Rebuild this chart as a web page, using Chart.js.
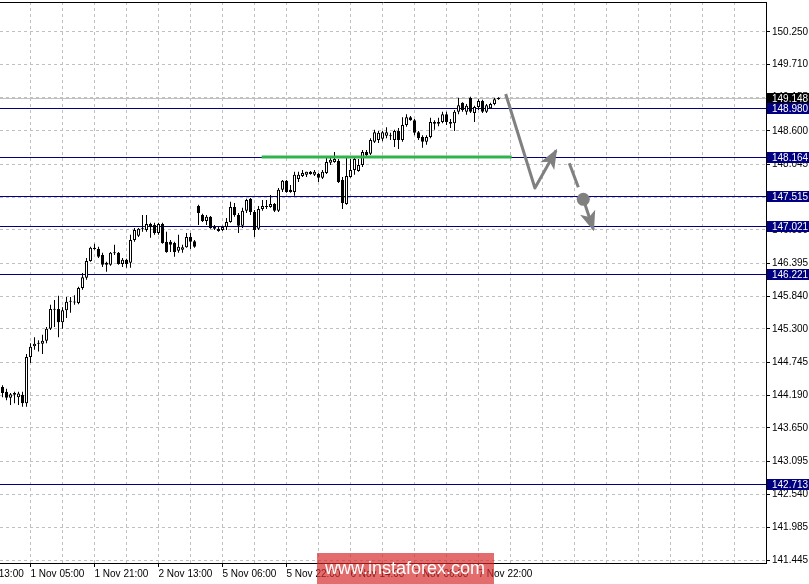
<!DOCTYPE html>
<html>
<head>
<meta charset="utf-8">
<script src="https://cdn.jsdelivr.net/npm/chart.js@4"></script>
<style>
  html, body { margin: 0; padding: 0; background: #fff; }
  canvas { display: block; }
</style>
</head>
<body>
<canvas id="chart" width="809" height="584"></canvas>
<script>
// H1 candles
const opens = [
  144.33, 144.25, 144.15, 144.23, 144.16, 144.20, 144.06, 144.83, 145.01, 145.05,
  145.05, 145.10, 145.30, 145.63, 145.63, 145.41, 145.61, 145.75, 145.75, 145.73,
  145.98, 146.15, 146.43, 146.65, 146.63, 146.53, 146.40, 146.37, 146.56, 146.57,
  146.38, 146.45, 146.40, 146.78, 146.85, 146.96, 146.95, 147.05, 147.03, 146.90,
  147.05, 146.75, 146.75, 146.73, 146.60, 146.62, 146.66, 146.83, 146.76, 147.35,
  147.20, 147.10, 147.17, 147.00, 146.97, 146.95, 147.00, 147.08, 147.33, 147.20,
  147.02, 147.27, 147.47, 147.25, 146.97, 147.30, 147.33, 147.33, 147.38, 147.27,
  147.62, 147.77, 147.62, 147.58, 147.80, 147.85, 147.87, 147.92, 147.87, 147.88,
  147.82, 147.90, 148.07, 148.08, 148.10, 147.78, 147.38, 147.83, 147.95, 147.93,
  148.03, 148.25, 148.22, 148.42, 148.45, 148.47, 148.52, 148.52, 148.45, 148.60,
  148.45, 148.70, 148.83, 148.78, 148.58, 148.50, 148.42, 148.50, 148.75, 148.72,
  148.75, 148.88, 148.75, 148.73, 148.92, 149.07, 148.92, 149.15, 148.90, 149.00,
  149.10, 148.92, 148.98, 149.05, 149.13
];
const highs = [
  144.36, 144.30, 144.23, 144.25, 144.25, 144.25, 144.88, 145.06, 145.16, 145.11,
  145.20, 145.33, 145.70, 145.78, 145.85, 145.66, 145.83, 145.83, 145.86, 146.00,
  146.23, 146.48, 146.67, 146.72, 146.67, 146.57, 146.42, 146.58, 146.70, 146.58,
  146.48, 146.47, 146.87, 146.98, 146.98, 147.20, 147.20, 147.07, 147.07, 147.07,
  147.07, 146.92, 146.78, 146.75, 146.87, 146.70, 146.90, 146.90, 146.78, 147.37,
  147.22, 147.20, 147.18, 147.03, 147.00, 147.02, 147.15, 147.42, 147.40, 147.23,
  147.32, 147.47, 147.48, 147.28, 147.35, 147.45, 147.45, 147.53, 147.40, 147.65,
  147.78, 147.78, 147.70, 147.92, 147.92, 147.95, 147.92, 147.93, 147.95, 147.90,
  147.95, 148.15, 148.18, 148.25, 148.13, 147.83, 148.15, 148.13, 148.15, 148.13,
  148.28, 148.28, 148.48, 148.62, 148.60, 148.60, 148.66, 148.57, 148.62, 148.65,
  148.83, 148.88, 148.85, 148.80, 148.60, 148.53, 148.53, 148.82, 148.78, 148.82,
  148.92, 148.92, 148.80, 148.95, 149.15, 149.08, 149.05, 149.17, 149.02, 149.13,
  149.12, 149.05, 149.07, 149.15, 149.16
];
const lows = [
  144.16, 144.11, 144.03, 144.06, 144.03, 144.00, 144.00, 144.73, 144.95, 144.92,
  144.88, 145.06, 145.28, 145.33, 145.16, 145.30, 145.48, 145.57, 145.70, 145.71,
  145.95, 146.12, 146.42, 146.62, 146.48, 146.33, 146.25, 146.35, 146.53, 146.37,
  146.33, 146.32, 146.32, 146.75, 146.83, 146.92, 146.92, 146.82, 146.87, 146.87,
  146.72, 146.57, 146.58, 146.50, 146.57, 146.57, 146.65, 146.63, 146.65, 147.03,
  147.08, 147.03, 146.97, 146.95, 146.92, 146.93, 146.95, 147.07, 147.17, 146.90,
  146.98, 147.23, 147.20, 146.83, 146.95, 147.27, 147.30, 147.32, 147.25, 147.25,
  147.58, 147.57, 147.57, 147.52, 147.75, 147.83, 147.83, 147.87, 147.85, 147.75,
  147.80, 147.88, 148.03, 148.07, 147.73, 147.30, 147.37, 147.82, 147.87, 147.92,
  148.00, 148.17, 148.20, 148.40, 148.40, 148.43, 148.48, 148.45, 148.33, 148.30,
  148.42, 148.67, 148.77, 148.53, 148.45, 148.32, 148.37, 148.48, 148.62, 148.68,
  148.73, 148.70, 148.65, 148.60, 148.88, 148.92, 148.87, 148.90, 148.75, 148.95,
  148.90, 148.90, 148.97, 149.03, 149.12
];
const closes = [
  144.23, 144.15, 144.21, 144.20, 144.22, 144.06, 144.83, 145.00, 145.05, 145.06,
  145.10, 145.30, 145.63, 145.62, 145.41, 145.61, 145.75, 145.76, 145.74, 145.98,
  146.16, 146.43, 146.65, 146.63, 146.50, 146.37, 146.37, 146.57, 146.57, 146.38,
  146.45, 146.38, 146.78, 146.95, 146.97, 146.97, 147.05, 147.00, 146.90, 147.05,
  146.73, 146.58, 146.70, 146.58, 146.67, 146.66, 146.83, 146.75, 146.67, 147.23,
  147.10, 147.17, 146.98, 146.97, 146.93, 147.00, 147.08, 147.33, 147.20, 147.02,
  147.27, 147.45, 147.25, 146.95, 147.30, 147.35, 147.34, 147.38, 147.27, 147.62,
  147.77, 147.58, 147.58, 147.87, 147.87, 147.90, 147.92, 147.88, 147.92, 147.82,
  147.92, 148.08, 148.12, 148.13, 147.75, 147.40, 147.85, 147.95, 148.13, 148.03,
  148.25, 148.20, 148.45, 148.58, 148.57, 148.58, 148.58, 148.51, 148.60, 148.45,
  148.70, 148.83, 148.78, 148.57, 148.48, 148.42, 148.50, 148.75, 148.72, 148.75,
  148.88, 148.75, 148.72, 148.92, 149.03, 148.95, 149.02, 148.92, 149.00, 149.10,
  148.92, 149.03, 149.05, 149.13, 149.148
];

// price scale grid (terminal style uneven steps)
const yTicks = [150.250, 149.710, 149.155, 148.600, 148.045, 147.490, 146.950, 146.395,
  145.840, 145.300, 144.745, 144.190, 143.650, 143.095, 142.540, 141.985, 141.445];

// time scale: grid every 8 bars, label every 16 bars
const xGridBars = [-9, -1, 7, 15, 23, 31, 39, 47, 55, 63, 71, 79, 87, 95, 103, 111, 119,
  127, 135, 143, 151, 159, 167, 175, 183];
const xLabelBars = [-9, 7, 23, 39, 55, 71, 87, 103, 119];
const xLabels = ['31 Oct 13:00', '1 Nov 05:00', '1 Nov 21:00', '2 Nov 13:00', '5 Nov 06:00',
  '5 Nov 22:00', '6 Nov 14:00', '7 Nov 06:00', '7 Nov 22:00'];

// horizontal levels
const levels = [148.980, 148.164, 147.515, 147.021, 146.221, 142.713];
const bidPrice = 149.148;

// drawings
const greenX = [64.8, 127.3];
const greenY = [148.164, 148.164];
const arrow1X = [125.8, 133.1, 138.4];
const arrow1Y = [149.216, 147.648, 148.274];
const dashX = [141.7, 143.95];
const dashY = [148.06, 147.66];
const dotX = [145.2];
const dotY = [147.46];
const arrow2X = [145.2, 147.7];
const arrow2Y = [147.46, 146.96];

const FONT = 'Liberation Sans';
const grey = '#808080';
const navy = '#000080';

const pts = (xs, ys) => xs.map((x, i) => ({ x: x, y: ys[i] }));
const barIdx = opens.map((_, i) => i);

const plotDecor = {
  id: 'plotDecor',
  beforeDatasetsDraw(chart) {
    const { ctx, chartArea: a, scales: { y } } = chart;
    ctx.save();
    ctx.lineWidth = 1;
    const hline = (v, c) => {
      const py = Math.round(y.getPixelForValue(v)) + 0.5;
      ctx.strokeStyle = c;
      ctx.beginPath();
      ctx.moveTo(a.left, py);
      ctx.lineTo(a.right, py);
      ctx.stroke();
    };
    hline(bidPrice, '#c0c0c0');
    levels.forEach(v => hline(v, navy));
    ctx.restore();
  },
  afterDatasetsDraw(chart) {
    // arrow heads at the end of the arrow paths
    const { ctx } = chart;
    chart.data.datasets.forEach((ds, i) => {
      if (!ds.arrowHead) return;
      const el = chart.getDatasetMeta(i).data;
      const p1 = el[el.length - 2], p2 = el[el.length - 1];
      const ang = Math.atan2(p2.y - p1.y, p2.x - p1.x);
      const len = 18, half = 8;
      ctx.save();
      ctx.translate(p2.x, p2.y);
      ctx.rotate(ang);
      ctx.fillStyle = grey;
      ctx.beginPath();
      ctx.moveTo(2, 0);
      ctx.lineTo(-len, -half);
      ctx.lineTo(-len + 5, 0);
      ctx.lineTo(-len, half);
      ctx.closePath();
      ctx.fill();
      ctx.restore();
    });
  },
  afterDraw(chart) {
    const { ctx, chartArea: a, scales: { y } } = chart;
    ctx.save();
    // top frame
    ctx.strokeStyle = '#000';
    ctx.lineWidth = 1;
    ctx.beginPath();
    ctx.moveTo(a.left, a.top + 0.5);
    ctx.lineTo(a.right + 1, a.top + 0.5);
    ctx.stroke();

    // price boxes on the axis
    ctx.font = '10px "' + FONT + '"';
    ctx.textBaseline = 'middle';
    ctx.textAlign = 'left';
    const box = (v, bg) => {
      const py = Math.round(y.getPixelForValue(v));
      ctx.fillStyle = bg;
      ctx.fillRect(a.right + 1, py - 5, chart.width - a.right - 1, 11);
      ctx.fillStyle = '#fff';
      ctx.fillText(v.toFixed(3), a.right + 6, py + 1);
    };
    box(bidPrice, '#000');
    levels.forEach(v => box(v, navy));

    // watermark
    ctx.fillStyle = 'rgba(214, 40, 40, 0.68)';
    ctx.fillRect(317, 553, 177, 31);
    ctx.fillStyle = '#fff';
    ctx.font = '18px "' + FONT + '"';
    ctx.textAlign = 'center';
    ctx.fillText('www.instaforex.com', 405, 569);
    ctx.restore();
  }
};

new Chart(document.getElementById('chart'), {
  type: 'bar',
  data: {
    datasets: [
      {
        label: 'wick',
        data: barIdx.map(i => ({ x: i, y: [lows[i], highs[i]] })),
        backgroundColor: '#000',
        grouped: false,
        barThickness: 1,
        maxBarThickness: 1,
        barPercentage: 1,
        categoryPercentage: 1,
        inflateAmount: 0,
        order: 6
      },
      {
        label: 'body',
        data: barIdx.map(i => ({ x: i, y: [opens[i], closes[i]] })),
        backgroundColor: barIdx.map(i => closes[i] >= opens[i] ? '#fff' : '#000'),
        borderColor: '#000',
        borderWidth: 1,
        borderSkipped: false,
        grouped: false,
        barThickness: 3,
        maxBarThickness: 3,
        barPercentage: 1,
        categoryPercentage: 1,
        minBarLength: 1,
        inflateAmount: 0,
        order: 5
      },
      {
        type: 'line',
        label: 'green',
        data: pts(greenX, greenY),
        borderColor: '#2fb34c',
        borderWidth: 3,
        pointRadius: 0,
        order: 4
      },
      {
        type: 'line',
        label: 'arrow1',
        data: pts(arrow1X, arrow1Y),
        borderColor: grey,
        borderWidth: 3,
        pointRadius: 0,
        borderJoinStyle: 'round',
        arrowHead: true,
        order: 3
      },
      {
        type: 'line',
        label: 'dash',
        data: pts(dashX, dashY),
        borderColor: grey,
        borderWidth: 3,
        pointRadius: 0,
        order: 3
      },
      {
        type: 'line',
        label: 'arrow2',
        data: pts(arrow2X, arrow2Y),
        borderColor: grey,
        borderWidth: 3,
        pointRadius: 0,
        arrowHead: true,
        order: 2
      },
      {
        type: 'line',
        label: 'dot',
        data: pts(dotX, dotY),
        showLine: false,
        pointRadius: 6.5,
        pointBackgroundColor: grey,
        pointBorderColor: grey,
        borderWidth: 0,
        order: 1
      }
    ]
  },
  options: {
    responsive: false,
    animation: false,
    events: [],
    layout: { autoPadding: false, padding: { top: 2, left: 0, right: 0, bottom: 0 } },
    plugins: {
      legend: { display: false },
      tooltip: { enabled: false }
    },
    scales: {
      x: {
        type: 'linear',
        min: -0.625,
        max: 190.875,
        bounds: 'data',
        offset: false,
        grid: {
          offset: false,
          color: '#c0c0c0',
          tickLength: 4,
          tickBorderDash: [],
          tickColor: c => (c.tick && xLabelBars.includes(c.tick.value)) ? '#000' : 'rgba(0,0,0,0)'
        },
        border: { color: '#000', width: 1, dash: [3, 3] },
        ticks: {
          autoSkip: false,
          maxRotation: 0,
          align: 'start',
          padding: 1,
          color: '#000',
          font: { family: FONT, size: 10 },
          callback: v => {
            const k = xLabelBars.indexOf(v);
            return k >= 0 ? xLabels[k] : '';
          }
        },
        afterBuildTicks: s => { s.ticks = xGridBars.map(v => ({ value: v })); },
        afterFit: s => { s.height = 21; s.paddingLeft = 0; s.paddingRight = 0; }
      },
      y: {
        type: 'linear',
        position: 'right',
        min: 141.395,
        max: 150.75,
        bounds: 'data',
        beginAtZero: false,
        grid: {
          color: '#c0c0c0',
          tickLength: 4,
          tickBorderDash: [],
          tickColor: '#000'
        },
        border: { color: '#000', width: 1, dash: [3, 3] },
        ticks: {
          padding: 2,
          color: '#000',
          font: { family: FONT, size: 10 },
          callback: v => Number(v).toFixed(3)
        },
        afterBuildTicks: s => { s.ticks = yTicks.map(v => ({ value: v })); },
        afterFit: s => { s.width = 43; s.paddingTop = 0; s.paddingBottom = 0; }
      }
    }
  },
  plugins: [plotDecor]
});
</script>
</body>
</html>
